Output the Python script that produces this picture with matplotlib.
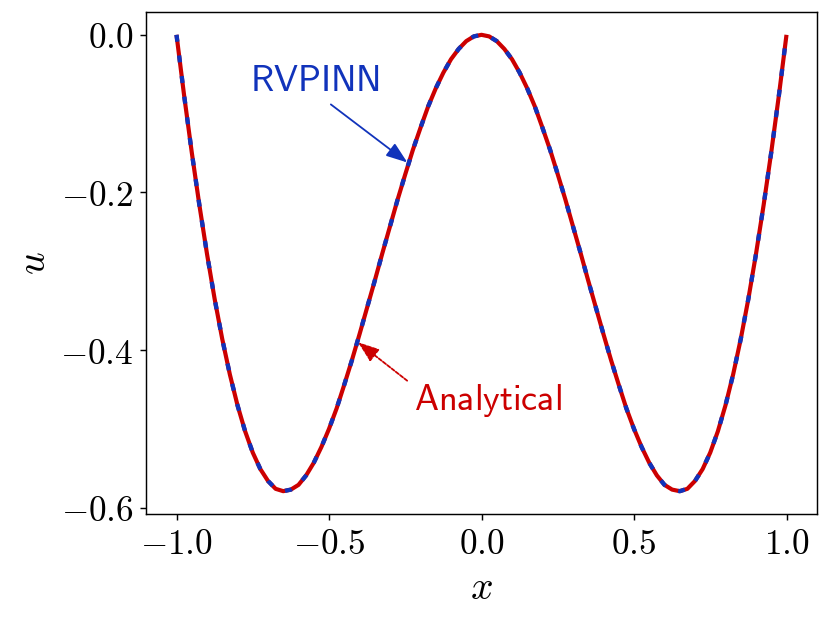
import numpy as np
import matplotlib
matplotlib.use("Agg")
import matplotlib.pyplot as plt
from matplotlib.ticker import FuncFormatter

plt.rcParams['mathtext.fontset'] = 'cm'
plt.rcParams['font.family'] = 'serif'

# sampling grid and values
x_vals = np.linspace(-1.0, 1.0, 81)
u_analytical = [0.000, -0.077, -0.149, -0.216, -0.278, -0.335, -0.386, -0.431, -0.470, -0.503,
                -0.530, -0.551, -0.566, -0.576, -0.579, -0.577, -0.571, -0.559, -0.543, -0.523,
                -0.500, -0.474, -0.444, -0.413, -0.380, -0.346, -0.312, -0.277, -0.243, -0.209,
                -0.177, -0.146, -0.118, -0.091, -0.068, -0.048, -0.031, -0.018, -0.008, -0.002,
                0.000,
                -0.002, -0.008, -0.018, -0.031, -0.048, -0.068, -0.091, -0.118, -0.146, -0.177,
                -0.209, -0.243, -0.277, -0.312, -0.346, -0.380, -0.413, -0.444, -0.474, -0.500,
                -0.523, -0.543, -0.559, -0.571, -0.577, -0.579, -0.576, -0.566, -0.551, -0.530,
                -0.503, -0.470, -0.431, -0.386, -0.335, -0.278, -0.216, -0.149, -0.077, 0.000]
u_rvpinn = [0.000, -0.077, -0.149, -0.216, -0.278, -0.335, -0.386, -0.431, -0.470, -0.503,
            -0.530, -0.551, -0.566, -0.576, -0.579, -0.577, -0.571, -0.559, -0.543, -0.523,
            -0.500, -0.474, -0.444, -0.413, -0.380, -0.346, -0.312, -0.277, -0.243, -0.209,
            -0.177, -0.146, -0.118, -0.091, -0.068, -0.048, -0.031, -0.018, -0.008, -0.002,
            0.000,
            -0.002, -0.008, -0.018, -0.031, -0.048, -0.068, -0.091, -0.118, -0.146, -0.177,
            -0.209, -0.243, -0.277, -0.312, -0.346, -0.380, -0.413, -0.444, -0.474, -0.500,
            -0.523, -0.543, -0.559, -0.571, -0.577, -0.579, -0.576, -0.566, -0.551, -0.530,
            -0.503, -0.470, -0.431, -0.386, -0.335, -0.278, -0.216, -0.149, -0.077, 0.000]

red = '#cc0000'
blue = '#1133bb'

fig = plt.figure(figsize=(831 / 130, 618 / 130), dpi=130)
ax = fig.add_axes([146 / 831, 1 - 514 / 618, 671 / 831, 502 / 618])

ax.plot(x_vals, u_analytical, color=red, lw=2.3, solid_capstyle='butt')
ax.plot(x_vals, u_rvpinn, color=blue, lw=2.4, dashes=(1.6, 3.2))

ax.set_xticks([-1.0, -0.5, 0.0, 0.5, 1.0])
ax.set_yticks([0.0, -0.2, -0.4, -0.6])
fmt = FuncFormatter(lambda v, p: r'$%.1f$' % v)
ax.xaxis.set_major_formatter(fmt)
ax.yaxis.set_major_formatter(fmt)
ax.tick_params(labelsize=19.5)
ax.set_xlabel(r'$x$', fontsize=22, labelpad=5)
ax.set_ylabel(r'$u$', fontsize=22, labelpad=4)

ax.annotate(r'$\mathsf{RVPINN}$', xy=(-0.243, -0.162), xytext=(-0.545, -0.058),
            fontsize=20, color=blue, ha='center', va='center',
            arrowprops=dict(arrowstyle='-|>,head_length=0.5,head_width=0.18',
                            color=blue, lw=1.0, relpos=(0.55, 0.0),
                            shrinkA=3, shrinkB=0))
ax.annotate(r'$\mathsf{Analytical}$', xy=(-0.405, -0.39), xytext=(0.02, -0.464),
            fontsize=20, color=red, ha='center', va='center',
            arrowprops=dict(arrowstyle='-|>,head_length=0.5,head_width=0.18',
                            color=red, lw=1.0, ls=(0, (2, 1)), relpos=(0.0, 0.9),
                            shrinkA=2, shrinkB=0))

fig.savefig('out.png', dpi=130)
